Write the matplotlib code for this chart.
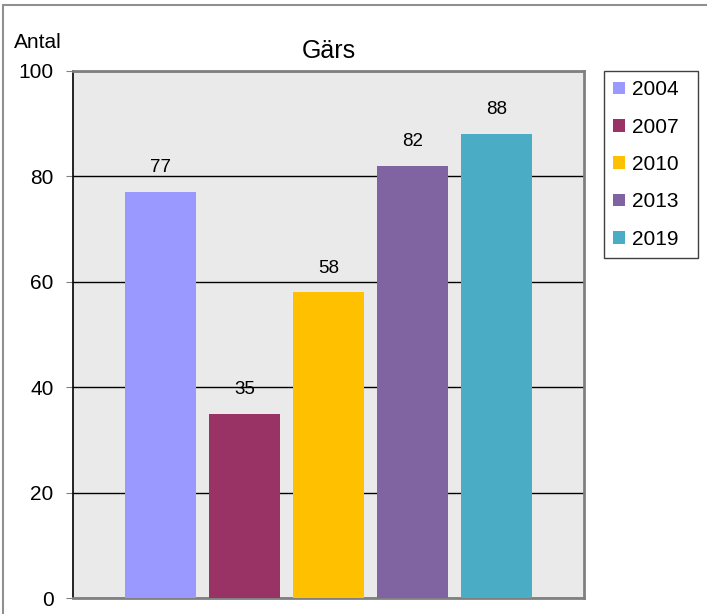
import matplotlib.pyplot as plt
from matplotlib.patches import Rectangle

plt.rcParams['font.family'] = ['Liberation Sans', 'DejaVu Sans']

years = ["2004", "2007", "2010", "2013", "2019"]
antal = [77, 35, 58, 82, 88]
colors = ["#9999FF", "#993366", "#FFC000", "#8064A2", "#4BACC6"]
yticks = [0, 20, 40, 60, 80, 100]

fig = plt.figure(figsize=(7.07, 6.14), dpi=100)
ax = fig.add_axes([73 / 707, 1 - 598 / 614, (584 - 73) / 707, (598 - 71) / 614])
ax.set_facecolor("#EAEAEA")

for i, (y, v, c) in enumerate(zip(years, antal, colors)):
    ax.bar(i, v, width=0.84, color=c, label=y, zorder=3)
    ax.text(i, v + 3, str(v), ha="center", va="bottom", fontsize=13.5, zorder=4)

ax.set_xlim(-1.04, 5.04)
ax.set_ylim(0, 100)
ax.set_yticks(yticks)
ax.set_xticks([])
ax.tick_params(axis="y", labelsize=15, length=5, pad=9, direction="out", color="#808080")
ax.yaxis.grid(True, color="black", linewidth=1, zorder=1)
ax.set_axisbelow(True)

ax.spines["left"].set_color("black")
ax.spines["left"].set_linewidth(1.2)
for s in ["top", "right", "bottom"]:
    ax.spines[s].set_color("#808080")
    ax.spines[s].set_linewidth(2)

ax.set_title("Gärs", fontsize=18, pad=9)
fig.text(38 / 707, 1 - 42 / 614, "Antal", fontsize=15, ha="center", va="center")

leg = ax.legend(loc="upper left", bbox_to_anchor=(604 / 707, 1 - 262 / 614, 94 / 707, 191 / 614),
                bbox_transform=fig.transFigure, mode="expand", borderaxespad=0, fontsize=15,
                handlelength=0.55, handleheight=0.55, handletextpad=0.35,
                labelspacing=0.88, borderpad=0.45, fancybox=False, framealpha=1)
leg.get_frame().set_edgecolor("#404040")
leg.get_frame().set_linewidth(1)

# outer chart border
fig.patches.append(Rectangle((3 / 707, -0.1), 1.2, (1 - 5 / 614) + 0.1, transform=fig.transFigure,
                             fill=False, edgecolor="#909090", linewidth=1.5))

fig.savefig("out.png", dpi=100)
